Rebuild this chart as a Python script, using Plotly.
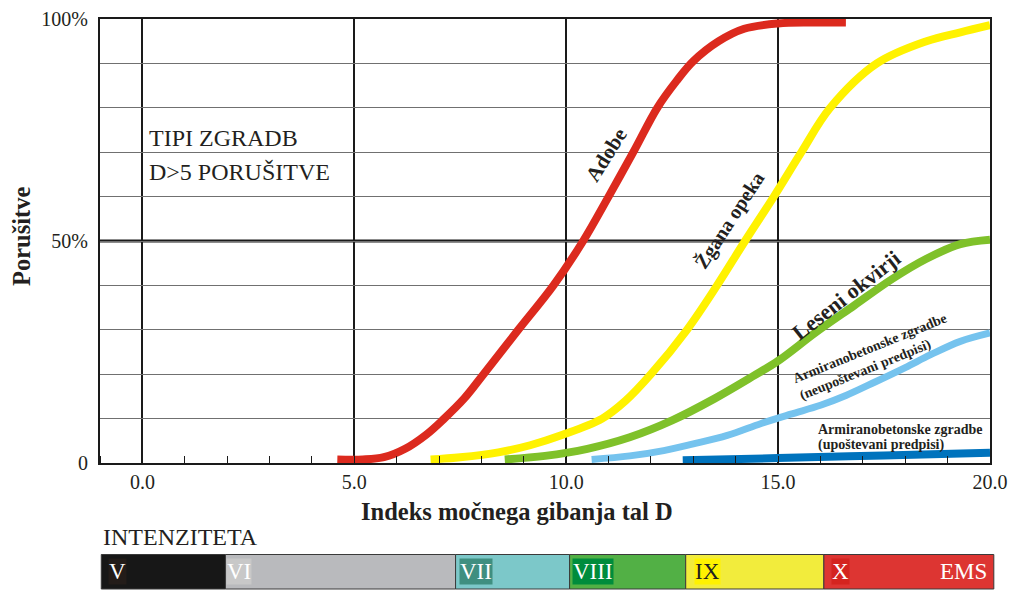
import plotly.graph_objects as go

# --- curve data: index of strong ground motion D vs. share of collapse (%) ---
adobe_d = [4.6, 5.2, 5.7, 6.2, 6.7, 7.1, 7.6, 8.05, 8.87, 9.7, 10.4, 11.0, 11.6, 12.15, 12.6, 13.0, 13.6, 14.2, 15.0, 15.8, 16.6]
adobe_p = [0.8, 0.8, 1.3, 3.2, 6.4, 9.8, 14.6, 20.0, 30.0, 40.0, 50.0, 60.0, 70.3, 80.0, 86.0, 90.5, 95.0, 97.8, 99.0, 99.2, 99.2]

opeka_d = [6.8, 7.5, 8.4, 9.15, 9.9, 10.85, 11.4, 12.0, 12.85, 13.56, 14.22, 14.9, 15.55, 16.23, 17.33, 18.5, 19.3, 20.0]
opeka_p = [0.8, 1.3, 2.4, 4.0, 6.3, 10.0, 14.0, 20.0, 30.0, 40.0, 50.0, 60.0, 70.0, 80.0, 90.0, 95.0, 97.0, 98.6]

okvirji_d = [8.55, 9.5, 10.5, 11.5, 12.5, 13.5, 14.4, 15.0, 15.9, 16.8, 17.7, 18.5, 19.3, 20.0]
okvirji_p = [0.8, 1.6, 3.2, 5.8, 9.6, 14.5, 19.5, 23.0, 29.5, 35.5, 41.5, 46.0, 49.3, 50.3]

ab_neup_d = [10.6, 11.5, 12.3, 13.0, 13.8, 14.6, 15.3, 16.0, 16.6, 17.3, 18.0, 18.6, 19.3, 20.0]
ab_neup_p = [0.8, 1.6, 2.8, 4.3, 6.2, 8.9, 11.0, 13.0, 15.2, 18.3, 21.5, 24.4, 27.4, 29.3]

ab_up_d = [12.75, 15.0, 17.5, 20.0]
ab_up_p = [0.6, 1.1, 1.7, 2.3]

# --- axes ---
x_range = [-1, 20]
x_ticks = [0, 5, 10, 15, 20]
x_ticktext = ["0.0", "5.0", "10.0", "15.0", "20.0"]
y_ticks = [0, 10, 20, 30, 40, 50, 60, 70, 80, 90, 100]
y_ticktext = ["0", "", "", "", "", "50%", "", "", "", "", "100%"]

# --- EMS intensity scale under the axis (edges in units of D) ---
intensity_edges = [-0.97, 1.96, 7.39, 10.08, 12.82, 16.08, 20.09]
intensity_labels = ["V", "VI", "VII", "VIII", "IX", "X"]

SERIF = "Liberation Serif"
INK = "#231f20"

band_colors = ["#171717", "#b9babd", "#7cc8c9", "#52b045", "#f2ec3c", "#dd3532"]
box_colors = ["#231c19", "#c8c8c8", "#3f8f80", "#008c3c", "#fff200", "#d4241f"]
box_text_colors = ["white", "white", "white", "white", INK, "white"]
box_xshift = [7, 1, 3, 2, 8, 7]


def to_paper(d):
    """Map a D value onto the paper fraction of the x axis."""
    return (d - x_range[0]) / (x_range[1] - x_range[0])


fig = go.Figure()

series = [
    (adobe_d, adobe_p, "#dc2a1e", 8),
    (opeka_d, opeka_p, "#fff200", 8),
    (okvirji_d, okvirji_p, "#7fc12a", 8),
    (ab_neup_d, ab_neup_p, "#75c3ee", 7),
    (ab_up_d, ab_up_p, "#0073bd", 8),
]
for xs, ys, col, w in series:
    fig.add_trace(go.Scatter(
        x=xs, y=ys, mode="lines",
        line=dict(color=col, width=w, shape="spline", smoothing=1.0),
        showlegend=False, hoverinfo="skip",
    ))

# thick 50 % line
fig.add_shape(type="line", xref="x", yref="y", x0=x_range[0], x1=x_range[1], y0=50, y1=50,
              line=dict(color="#1a1a1a", width=3), layer="below")

# intensity band
band_top, band_bot = -0.2061, -0.2838
band_mid = (band_top + band_bot) / 2
for i, lab in enumerate(intensity_labels):
    x0, x1 = to_paper(intensity_edges[i]), to_paper(intensity_edges[i + 1])
    fig.add_shape(type="rect", xref="paper", yref="paper", x0=x0, x1=x1,
                  y0=band_bot, y1=band_top, fillcolor=band_colors[i],
                  line=dict(color="#3a3a3a", width=1), layer="above")
    fig.add_annotation(x=x0, y=band_mid, xref="paper", yref="paper",
                       text=lab, showarrow=False, xanchor="left", yanchor="middle",
                       xshift=box_xshift[i], bgcolor=box_colors[i], borderpad=0,
                       font=dict(family=SERIF, size=23, color=box_text_colors[i]))
fig.add_annotation(x=to_paper(intensity_edges[-1]), y=band_mid, xref="paper", yref="paper",
                   text="EMS", showarrow=False, xanchor="right", yanchor="middle", xshift=-5,
                   font=dict(family=SERIF, size=23, color="white"))
fig.add_annotation(x=to_paper(intensity_edges[0]), y=-0.1667, xref="paper", yref="paper",
                   text="INTENZITETA", showarrow=False, xanchor="left", yanchor="middle",
                   font=dict(family=SERIF, size=24, color=INK))

# axis titles
fig.add_annotation(x=to_paper(8.84), y=-0.110, xref="paper", yref="paper",
                   text="<b>Indeks močnega gibanja tal D</b>", showarrow=False,
                   xanchor="center", yanchor="middle",
                   font=dict(family=SERIF, size=24.5, color=INK))
fig.add_annotation(x=-0.0888, y=51.1, xref="paper", yref="y",
                   text="<b>Porušitve</b>", showarrow=False, textangle=-90,
                   xanchor="center", yanchor="middle",
                   font=dict(family=SERIF, size=24.5, color=INK))

# heading inside the plot
fig.add_annotation(x=0.1, y=73.2, xref="x", yref="y", text="TIPI ZGRADB",
                   showarrow=False, xanchor="left", yanchor="middle",
                   font=dict(family=SERIF, size=24, color=INK))
fig.add_annotation(x=0.1, y=65.5, xref="x", yref="y", text="D>5 PORUŠITVE",
                   showarrow=False, xanchor="left", yanchor="middle",
                   font=dict(family=SERIF, size=24, color=INK))

# curve labels
curve_labels = [
    ("Adobe", 10.94, 69.4, -58, 21),
    ("Žgana opeka", 13.85, 54.7, -57, 20),
    ("Leseni okvirji", 16.6, 37.8, -38, 22),
]
for txt, x, y, ang, sz in curve_labels:
    fig.add_annotation(x=x, y=y, text=f"<b>{txt}</b>", showarrow=False, textangle=ang,
                       xanchor="center", yanchor="middle",
                       font=dict(family=SERIF, size=sz, color=INK))
fig.add_annotation(x=17.25, y=23.9, text="<b>Armiranobetonske zgradbe<br>(neupoštevani predpisi)</b>",
                   showarrow=False, textangle=-22, align="left",
                   xanchor="center", yanchor="middle",
                   font=dict(family=SERIF, size=14, color=INK))
fig.add_annotation(x=15.9, y=7.5, text="<b>Armiranobetonske zgradbe</b>",
                   showarrow=False, xanchor="left", yanchor="middle",
                   font=dict(family=SERIF, size=14, color=INK))
fig.add_annotation(x=15.9, y=4.0, text="<b>(upoštevani predpisi)</b>",
                   showarrow=False, xanchor="left", yanchor="middle",
                   font=dict(family=SERIF, size=14, color=INK))

fig.update_xaxes(
    range=x_range, tickvals=x_ticks, ticktext=x_ticktext, automargin=False,
    showgrid=True, gridcolor="#1a1a1a", gridwidth=2,
    showline=True, linecolor="#1a1a1a", linewidth=2, mirror=True,
    ticks="", ticklabelstandoff=0, zeroline=False,
    tickfont=dict(family=SERIF, size=20, color=INK),
    minor=dict(dtick=1, tick0=0, ticks="inside", ticklen=7, tickcolor="#1a1a1a",
               tickwidth=1, showgrid=False),
)
fig.update_yaxes(
    range=[0, 100], tickvals=y_ticks, ticktext=y_ticktext, automargin=False,
    showgrid=True, gridcolor="#707070", gridwidth=1.3,
    showline=True, linecolor="#1a1a1a", linewidth=2, mirror=True,
    ticks="", ticklabelstandoff=6, zeroline=False,
    tickfont=dict(family=SERIF, size=20, color=INK),
)
fig.update_layout(
    width=1010, height=590,
    margin=dict(l=100, r=20, t=19, b=127),
    plot_bgcolor="white", paper_bgcolor="white",
    showlegend=False,
)
fig.write_html("out.html")
